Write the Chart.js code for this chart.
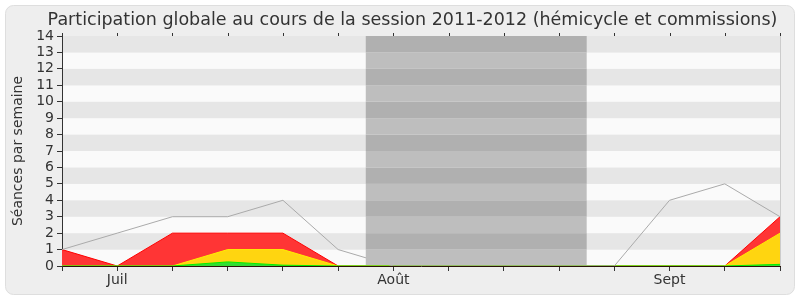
<!DOCTYPE html>
<html>
<head>
<meta charset="utf-8">
<script src="https://cdn.jsdelivr.net/npm/chart.js@4/dist/chart.umd.min.js"></script>
<style>
  html, body { margin: 0; padding: 0; background: #fff; }
  #wrap { width: 800px; height: 300px; }
</style>
</head>
<body>
<div id="wrap"><canvas id="chart" width="800" height="300"></canvas></div>
<script>
/* --------------- Data --------------------- */
const chartTitle = "Participation globale au cours de la session 2011-2012 (hémicycle et commissions)";
const weekLabels = ["", "Juil", "", "", "", "", "Août", "", "", "", "", "Sept", "", ""];
const seancesTotal = [1, 2, 3, 3, 4, 1, 0, 0, 0, 0, 0, 4, 5, 3];
const presences = [1, 0, 2, 2, 2, 0, 0, 0, 0, 0, 0, 0, 0, 3];
const interventions = [0, 0, 0, 1, 1, 0, 0, 0, 0, 0, 0, 0, 0, 2];
const questions = [0, 0, 0, 0.25, 0.05, 0, 0, 0, 0, 0, 0, 0, 0, 0.1];
const vacances = [6, 7, 8, 9];

/* --------------- Background: panel, stripes, holidays, title --------------------- */
const stripes = {
  id: "stripes",
  beforeDraw(chart) {
    const ctx = chart.ctx;
    const area = chart.chartArea;
    const y = chart.scales.y;
    ctx.save();
    ctx.fillStyle = "#ffffff";
    ctx.fillRect(0, 0, chart.width, chart.height);
    ctx.beginPath();
    ctx.roundRect(5.5, 5.5, 789, 289, 8);
    ctx.fillStyle = "#eeeeee";
    ctx.fill();
    ctx.strokeStyle = "#dedede";
    ctx.lineWidth = 1;
    ctx.stroke();
    for (let v = 0; v < 14; v++) {
      const top = y.getPixelForValue(v + 1);
      const bot = y.getPixelForValue(v);
      ctx.fillStyle = v % 2 === 1 ? "#e6e6e6" : "#fafafa";
      ctx.fillRect(area.left, top, area.right - area.left, bot - top);
    }
    ctx.restore();
  },
  afterDatasetsDraw(chart) {
    const ctx = chart.ctx;
    const area = chart.chartArea;
    const x = chart.scales.x;
    const y = chart.scales.y;
    const x0 = x.getPixelForValue(vacances[0] - 0.5);
    const x1 = x.getPixelForValue(vacances[vacances.length - 1] + 0.5);
    ctx.save();
    for (let v = 0; v < 14; v++) {
      const top = y.getPixelForValue(v + 1);
      const bot = Math.min(y.getPixelForValue(v), area.bottom - 1);
      ctx.fillStyle = v % 2 === 1 ? "#b0b0b0" : "#bebebe";
      ctx.fillRect(x0, top, x1 - x0, bot - top);
    }
    ctx.restore();
  },
  afterDraw(chart) {
    const ctx = chart.ctx;
    const area = chart.chartArea;
    const x = chart.scales.x;
    ctx.save();
    // small ticks on the top edge
    ctx.strokeStyle = "#333";
    ctx.lineWidth = 1;
    ctx.beginPath();
    for (let i = 0; i < weekLabels.length; i++) {
      const px = Math.round(x.getPixelForValue(i)) + 0.5;
      ctx.moveTo(px, area.top);
      ctx.lineTo(px, area.top - 3);
    }
    ctx.stroke();
    ctx.strokeStyle = "#cccccc";
    ctx.beginPath();
    ctx.moveTo(Math.round(area.right) + 0.5, area.top);
    ctx.lineTo(Math.round(area.right) + 0.5, area.bottom);
    ctx.stroke();
    // title, centred a little right of the canvas middle like the original
    ctx.fillStyle = "#333";
    ctx.font = "17.5px 'DejaVu Sans'";
    ctx.textAlign = "center";
    ctx.textBaseline = "alphabetic";
    ctx.fillText(chartTitle, 412.5, 25);
    ctx.restore();
  },
};

/* --------------- Chart --------------------- */
const serie = (label, data, border, fill) => ({
  label: label,
  data: data,
  borderColor: border,
  backgroundColor: fill,
  borderWidth: 1,
  fill: fill ? "origin" : false,
  pointRadius: 0,
  tension: 0,
});

new Chart(document.getElementById("chart"), {
  type: "line",
  plugins: [stripes],
  data: {
    labels: weekLabels,
    datasets: [
      serie("Séances", seancesTotal, "#aaaaaa", null),
      serie("Questions", questions, "#00ee00", "#33dd33"),
      serie("Interventions", interventions, "#ffee00", "#ffd510"),
      serie("Présences", presences, "#ff0000", "#ff3535"),
    ],
  },
  options: {
    responsive: false,
    animation: false,
    layout: { padding: { left: 8, right: 20, top: 36, bottom: 10 } },
    plugins: {
      legend: { display: false },
      tooltip: { enabled: false },
      title: { display: false },
    },
    scales: {
      x: {
        offset: false,
        afterFit: (s) => { s.height = 24; },
        grid: { drawOnChartArea: false, offset: false, tickLength: 5, color: "#333" },
        border: { color: "#2a1408" },
        ticks: {
          autoSkip: false,
          maxRotation: 0,
          padding: 1,
          color: "#333",
          font: { family: "DejaVu Sans", size: 14 },
        },
      },
      y: {
        min: 0,
        max: 14,
        afterFit: (s) => { s.width = 54; },
        grid: { drawOnChartArea: false, tickLength: 5, color: "#333" },
        border: { color: "#333" },
        title: {
          display: true,
          text: "Séances par semaine",
          color: "#333",
          padding: { top: 2, bottom: 0 },
          font: { family: "DejaVu Sans", size: 14 },
        },
        ticks: {
          stepSize: 1,
          autoSkip: false,
          padding: 3,
          color: "#333",
          font: { family: "DejaVu Sans", size: 14, lineHeight: 1 },
        },
      },
    },
  },
});
</script>
</body>
</html>
